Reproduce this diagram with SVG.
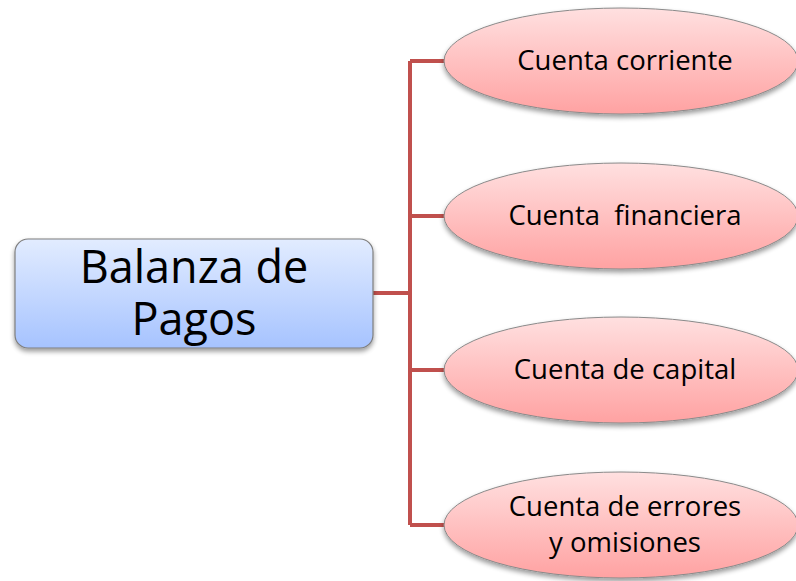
<svg xmlns="http://www.w3.org/2000/svg" width="796" height="581" viewBox="0 0 796 581">
<style>
.ell{fill:url(#gp);stroke:#8a8a8a;stroke-width:1;filter:url(#sh)}
.root{fill:url(#gb);stroke:#7f7f7f;stroke-width:1.2;filter:url(#sh)}
.t{font-family:"Open Sans","Liberation Sans",Arial,sans-serif;font-size:27.5px;fill:#000;text-anchor:middle;white-space:pre}
.tr{font-family:"Open Sans","Liberation Sans",Arial,sans-serif;font-size:45px;fill:#000;text-anchor:middle}
.c{fill:none;stroke:#C0504D;stroke-width:4}
</style>
<defs>
<linearGradient id="gp" x1="0" y1="0" x2="0" y2="1">
<stop offset="0" stop-color="#FFE0E0"/>
<stop offset="1" stop-color="#FFA2A2"/>
</linearGradient>
<linearGradient id="gb" x1="0" y1="0" x2="0" y2="1">
<stop offset="0" stop-color="#E2ECFF"/>
<stop offset="1" stop-color="#A6C3FF"/>
</linearGradient>
<filter id="sh" x="-10%" y="-10%" width="120%" height="130%">
<feGaussianBlur in="SourceAlpha" stdDeviation="2.5"/>
<feOffset dx="0" dy="3" result="b"/>
<feComponentTransfer><feFuncA type="linear" slope="0.4"/></feComponentTransfer>
<feMerge><feMergeNode/><feMergeNode in="SourceGraphic"/></feMerge>
</filter>
</defs>
<g id="connectors">
<path class="c" d="M373 293 H410 M410 61 V525 M410 61 H446 M410 216 H446 M410 370 H446 M410 525 H446"/>
</g>
<g id="root">
<rect class="root" x="15" y="239" width="358" height="109" rx="13"/>
<text class="tr" x="194" y="283">Balanza de</text>
<text class="tr" x="194" y="335">Pagos</text>
</g>
<g id="n1">
<ellipse class="ell" cx="621" cy="61" rx="177" ry="53"/>
<text class="t" x="625" y="70">Cuenta corriente</text>
</g>
<g id="n2">
<ellipse class="ell" cx="621" cy="216" rx="177" ry="53"/>
<text class="t" x="625" y="225">Cuenta  financiera</text>
</g>
<g id="n3">
<ellipse class="ell" cx="621" cy="370" rx="177" ry="53"/>
<text class="t" x="625" y="379">Cuenta de capital</text>
</g>
<g id="n4">
<ellipse class="ell" cx="621" cy="525" rx="177" ry="53"/>
<text class="t" x="625" y="516">Cuenta de errores</text>
<text class="t" x="625" y="552">y omisiones</text>
</g>
</svg>
